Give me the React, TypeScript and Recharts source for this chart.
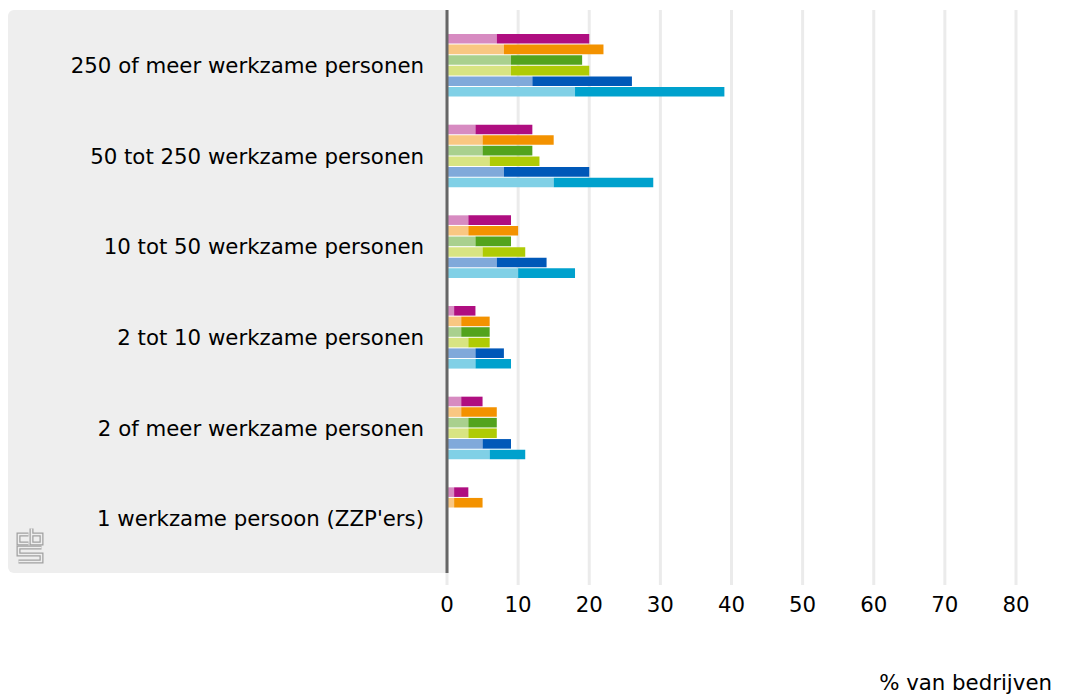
import React from 'react';
import { BarChart, Bar, XAxis, YAxis, CartesianGrid, Label } from 'recharts';

const categories = [
  '250 of meer werkzame personen',
  '50 tot 250 werkzame personen',
  '10 tot 50 werkzame personen',
  '2 tot 10 werkzame personen',
  '2 of meer werkzame personen',
  "1 werkzame persoon (ZZP'ers)",
];

// light (first) part and dark (second) part of each stacked bar
const purpleLight = [7, 4, 3, 1, 2, 1];
const purpleDark = [13, 8, 6, 3, 3, 2];
const orangeLight = [8, 5, 3, 2, 2, 1];
const orangeDark = [14, 10, 7, 4, 5, 4];
const greenLight = [9, 5, 4, 2, 3, null];
const greenDark = [10, 7, 5, 4, 4, null];
const yellowLight = [9, 6, 5, 3, 3, null];
const yellowDark = [11, 7, 6, 3, 4, null];
const blueLight = [12, 8, 7, 4, 5, null];
const blueDark = [14, 12, 7, 4, 4, null];
const cyanLight = [18, 15, 10, 4, 6, null];
const cyanDark = [21, 14, 8, 5, 5, null];

const xTicks = [0, 10, 20, 30, 40, 50, 60, 70, 80];
const xAxisTitle = '% van bedrijven';

const data = categories.map((category, i) => ({
  category,
  pL: purpleLight[i],
  pD: purpleDark[i],
  oL: orangeLight[i],
  oD: orangeDark[i],
  gL: greenLight[i],
  gD: greenDark[i],
  yL: yellowLight[i],
  yD: yellowDark[i],
  bL: blueLight[i],
  bD: blueDark[i],
  cL: cyanLight[i],
  cD: cyanDark[i],
}));

const series = [
  { key: 'pL', stack: 'p', color: '#d78bc1' },
  { key: 'pD', stack: 'p', color: '#af0e80' },
  { key: 'oL', stack: 'o', color: '#f9c782' },
  { key: 'oD', stack: 'o', color: '#f39200' },
  { key: 'gL', stack: 'g', color: '#a9d08e' },
  { key: 'gD', stack: 'g', color: '#53a31d' },
  { key: 'yL', stack: 'y', color: '#d8e482' },
  { key: 'yD', stack: 'y', color: '#afcb05' },
  { key: 'bL', stack: 'b', color: '#80a9da' },
  { key: 'bD', stack: 'b', color: '#0058b8' },
  { key: 'cL', stack: 'c', color: '#80d0e6' },
  { key: 'cD', stack: 'c', color: '#00a1cd' },
];

const FONT = '"DejaVu Sans", Verdana, sans-serif';
const FS = 21.3;

const Logo = () => (
  <svg
    width={30}
    height={40}
    style={{ position: 'absolute', left: 7, top: 516 }}
  >
    <g transform="translate(2.5,2.5)" fill="none" strokeLinejoin="miter">
      <g stroke="#a0a0a0" strokeWidth={4}>
        <path d="M11 6 H1 V15 H11" />
        <path d="M14 0 V15 H24 V6 H14" />
        <path d="M24 19 H1 V26 H24 V33 H1" />
      </g>
      <g stroke="#eeeeee" strokeWidth={1.5}>
        <path d="M11 6 H1 V15 H11" />
        <path d="M14 0 V15 H24 V6 H14" />
        <path d="M24 19 H1 V26 H24 V33 H1" />
      </g>
    </g>
  </svg>
);

export default function App() {
  return (
    <div
      style={{
        position: 'absolute',
        left: 0,
        top: 0,
        width: 1069,
        height: 696,
        fontFamily: FONT,
      }}
    >
      <div
        style={{
          position: 'absolute',
          left: 8,
          top: 10,
          width: 439,
          height: 563,
          background: '#eeeeee',
          borderRadius: '6px 0 0 6px',
        }}
      >
        <Logo />
      </div>
      <div style={{ position: 'absolute', left: 0, top: 0 }}>
        <BarChart
          width={1069}
          height={696}
          data={data}
          layout="vertical"
          margin={{ top: 10, right: 53, left: 0, bottom: 83 }}
          barSize={9.6}
          barGap={1}
        >
          <CartesianGrid
            horizontal={false}
            vertical={true}
            stroke="#ebebeb"
            strokeWidth={3}
          />
          <XAxis
            type="number"
            domain={[0, 80]}
            ticks={xTicks}
            interval={0}
            height={40}
            axisLine={false}
            tickLine={{ stroke: '#ebebeb', strokeWidth: 3 }}
            tickSize={12}
            tickMargin={12}
            tick={{ fill: '#000', fontSize: FS, fontFamily: FONT }}
          >
            <Label
              content={(props: any) => {
                const vb = props.viewBox || {};
                return (
                  <text
                    x={(vb.x || 0) + (vb.width || 0) + 36}
                    y={690}
                    textAnchor="end"
                    fill="#000"
                    fontSize={FS}
                    fontFamily={FONT}
                  >
                    {xAxisTitle}
                  </text>
                );
              }}
            />
          </XAxis>
          <YAxis
            type="category"
            dataKey="category"
            width={447}
            padding={{ top: 10, bottom: 9 }}
            axisLine={{ stroke: '#666666', strokeWidth: 3 }}
            tickLine={false}
            tickSize={0}
            tickMargin={23}
            interval={0}
            tick={{ fill: '#000', fontSize: FS, fontFamily: FONT }}
          />
          {series.map((s) => (
            <Bar
              key={s.key}
              dataKey={s.key}
              stackId={s.stack}
              fill={s.color}
              isAnimationActive={false}
            />
          ))}
        </BarChart>
      </div>
    </div>
  );
}
